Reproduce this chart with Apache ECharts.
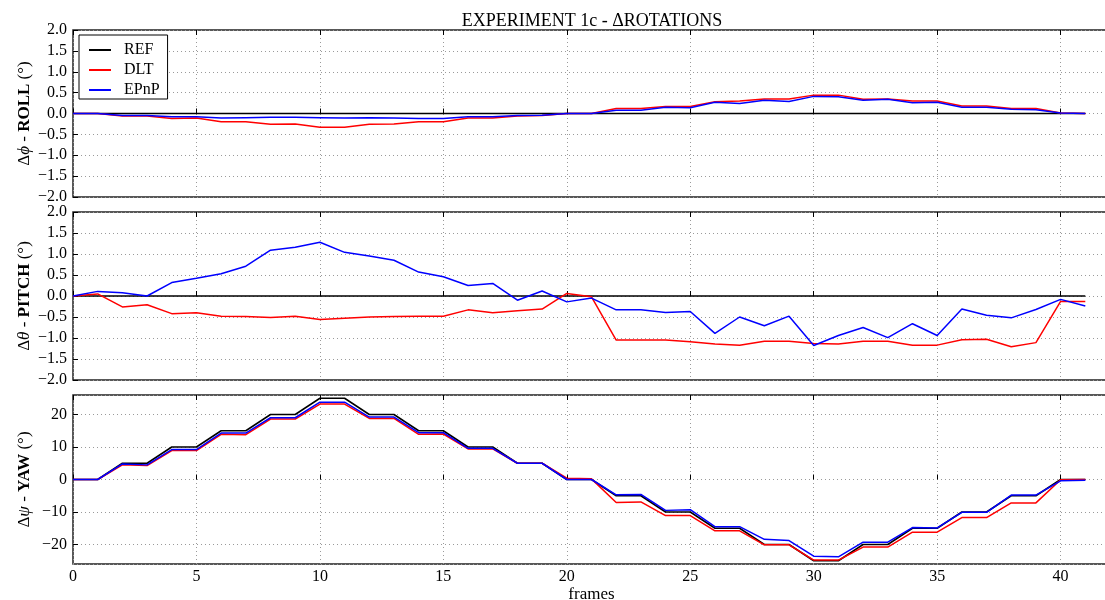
<!DOCTYPE html>
<html><head><meta charset="utf-8">
<script src="https://cdn.jsdelivr.net/npm/echarts@6/dist/echarts.min.js"></script>
<style>html,body{margin:0;padding:0;background:#fff}#c{width:1105px;height:600px}</style>
</head><body><div id="c"></div>
<script>
const frames = [0,1,2,3,4,5,6,7,8,9,10,11,12,13,14,15,16,17,18,19,20,21,22,23,24,25,26,27,28,29,30,31,32,33,34,35,36,37,38,39,40,41];
const xTicks = [0,5,10,15,20,25,30,35,40];

const rollREF = [0,0,0,0,0,0,0,0,0,0,0,0,0,0,0,0,0,0,0,0,0,0,0,0,0,0,0,0,0,0,0,0,0,0,0,0,0,0,0,0,0,0];
const rollDLT = [0,0,-0.06,-0.06,-0.12,-0.11,-0.2,-0.2,-0.26,-0.25,-0.33,-0.33,-0.26,-0.25,-0.2,-0.2,-0.11,-0.11,-0.06,-0.05,0,0,0.12,0.12,0.17,0.17,0.28,0.3,0.35,0.35,0.44,0.44,0.34,0.35,0.3,0.3,0.18,0.18,0.12,0.12,0.01,0];
const rollEPnP = [0,0,-0.05,-0.05,-0.08,-0.08,-0.11,-0.1,-0.09,-0.09,-0.1,-0.11,-0.1,-0.11,-0.12,-0.12,-0.08,-0.08,-0.05,-0.04,0,0,0.08,0.08,0.15,0.14,0.27,0.24,0.32,0.29,0.41,0.4,0.32,0.34,0.26,0.27,0.15,0.15,0.1,0.09,0.01,0];

const pitchREF = [0,0,0,0,0,0,0,0,0,0,0,0,0,0,0,0,0,0,0,0,0,0,0,0,0,0,0,0,0,0,0,0,0,0,0,0,0,0,0,0,0,0];
const pitchDLT = [0,0.05,-0.26,-0.21,-0.42,-0.4,-0.48,-0.49,-0.51,-0.48,-0.56,-0.53,-0.5,-0.49,-0.48,-0.48,-0.33,-0.4,-0.35,-0.31,0.06,-0.02,-1.05,-1.05,-1.05,-1.09,-1.14,-1.17,-1.08,-1.08,-1.13,-1.14,-1.08,-1.08,-1.17,-1.17,-1.04,-1.03,-1.21,-1.11,-0.13,-0.13];
const pitchEPnP = [0,0.11,0.08,0,0.32,0.42,0.53,0.71,1.09,1.16,1.28,1.04,0.95,0.85,0.57,0.46,0.25,0.3,-0.1,0.12,-0.14,-0.05,-0.33,-0.33,-0.39,-0.37,-0.89,-0.5,-0.71,-0.48,-1.18,-0.94,-0.75,-0.99,-0.66,-0.94,-0.31,-0.46,-0.52,-0.32,-0.08,-0.24];

const yawREF = [0,0,5,5,10,10,15,15,20,20,25,25,20,20,15,15,10,10,5,5,0,0,-5,-5,-10,-10,-15,-15,-20,-20,-25,-25,-20,-20,-15,-15,-10,-10,-5,-5,0,0];
const yawDLT = [0,0,4.5,4.3,8.9,8.9,13.9,13.8,18.6,18.6,23.2,23.2,18.8,18.8,13.9,14,9.4,9.4,5,5,0.4,0.2,-7.1,-6.9,-11.1,-11.1,-15.8,-15.8,-20.1,-20.1,-24.8,-24.8,-20.8,-20.8,-16.2,-16.2,-11.7,-11.7,-7.2,-7.2,-0.1,0];
const yawEPnP = [0,0,4.8,4.5,9.2,9.2,14.3,14.3,19,19,23.8,23.8,19.2,19.2,14.4,14.4,9.6,9.6,5,5,0,0,-4.7,-4.6,-9.5,-9.3,-14.5,-14.5,-18.4,-18.8,-23.6,-23.8,-19.3,-19.3,-14.8,-14.9,-10.1,-10.1,-4.8,-4.8,-0.4,-0.2];

const FONT = 'Liberation Serif';
const minus = s => String(s).replace('-', '\u2212');

const panels = [
  {name: '{n|\u0394}{i|\u03D5}{n| - }{b|ROLL}{n| (\u00B0)}', data: [rollREF, rollDLT, rollEPnP], min: -2, max: 2, interval: 0.5, top: 30, height: 167},
  {name: '{n|\u0394}{i|\u03B8}{n| - }{b|PITCH}{n| (\u00B0)}', data: [pitchREF, pitchDLT, pitchEPnP], min: -2, max: 2, interval: 0.5, top: 212, height: 168},
  {name: '{n|\u0394}{i|\u03C8}{n| - }{b|YAW}{n| (\u00B0)}', data: [yawREF, yawDLT, yawEPnP], min: -26, max: 26, interval: null, top: 395, height: 169}
];
const names = ['REF', 'DLT', 'EPnP'];
const colors = ['#000000', '#ff0000', '#0000ff'];

const grid = [], xAxis = [], yAxis = [], series = [];
const dotted = {show: true, lineStyle: {color: '#9a9a9a', type: [1, 3], width: 1}};
const rich = {
  n: {fontFamily: FONT, fontSize: 17, color: '#000'},
  i: {fontFamily: FONT, fontSize: 17, fontStyle: 'italic', color: '#000'},
  b: {fontFamily: FONT, fontSize: 17, fontWeight: 'bold', color: '#000'}
};
panels.forEach((p, gi) => {
  grid.push({left: 73, top: p.top, width: 1037, height: p.height, outerBoundsMode: 'none', containLabel: false,
    show: true, borderColor: '#222', borderWidth: 1.5, backgroundColor: 'transparent'});
  const isBottom = gi === 2;
  xAxis.push({
    type: 'value', gridIndex: gi, min: 0, max: 42, interval: 5, position: 'bottom',
    axisLine: {show: false}, axisTick: {show: true, inside: true, length: 5, lineStyle: {color: '#000'}},
    axisLabel: {show: isBottom, fontFamily: FONT, fontSize: 16, color: '#000', margin: 5,
      formatter: v => xTicks.includes(v) ? String(v) : ''},
    splitLine: dotted,
    name: isBottom ? 'frames' : '', nameLocation: 'middle', nameGap: 22, nameMoveOverlap: false,
    nameTextStyle: {fontFamily: FONT, fontSize: 17, color: '#000'}
  });
  xAxis.push({
    type: 'value', gridIndex: gi, min: 0, max: 42, interval: 5, position: 'top',
    axisLine: {show: false}, axisTick: {show: true, inside: true, length: 5, lineStyle: {color: '#000'}},
    axisLabel: {show: false}, splitLine: {show: false}
  });
  const ya = {
    type: 'value', gridIndex: gi, min: p.min, max: p.max, position: 'left',
    axisLine: {show: false}, axisTick: {show: true, inside: true, length: 5, lineStyle: {color: '#000'}},
    axisLabel: {fontFamily: FONT, fontSize: 16, color: '#000', margin: 6,
      showMinLabel: p.interval !== null, showMaxLabel: p.interval !== null,
      formatter: v => p.interval !== null ? minus(v.toFixed(1)) : (v % 10 === 0 ? minus(v) : '')},
    splitLine: dotted,
    name: p.name, nameLocation: 'middle', nameGap: 40, nameRotate: 90, nameMoveOverlap: false,
    nameTextStyle: {rich: rich}
  };
  if (p.interval !== null) ya.interval = p.interval;
  yAxis.push(ya);
  series.push(...p.data.map((arr, k) => ({
    type: 'line', name: names[k], xAxisIndex: gi * 2, yAxisIndex: gi,
    data: frames.map((f, j) => [f, arr[j]]),
    symbol: 'none', lineStyle: {width: 1.5, color: colors[k]}, itemStyle: {color: colors[k]},
    z: 3 + k, silent: true
  })));
});

const chart = echarts.init(document.getElementById('c'));
chart.setOption({
  animation: false,
  backgroundColor: '#fff',
  title: {text: 'EXPERIMENT 1c - \u0394ROTATIONS', left: 587, top: 7, textAlign: 'center',
    textStyle: {fontFamily: FONT, fontSize: 18, fontWeight: 'normal', color: '#000'}},
  legend: {data: names, orient: 'vertical', left: 79, top: 35, icon: 'rect', itemWidth: 22, itemHeight: 2,
    itemGap: 4, borderColor: '#000', borderWidth: 1, backgroundColor: '#fff', padding: [7, 8, 1, 10],
    textStyle: {fontFamily: FONT, fontSize: 16, color: '#000', padding: [0, 0, 0, 8]}, z: 10},
  grid, xAxis, yAxis, series
});
</script>
</body></html>
